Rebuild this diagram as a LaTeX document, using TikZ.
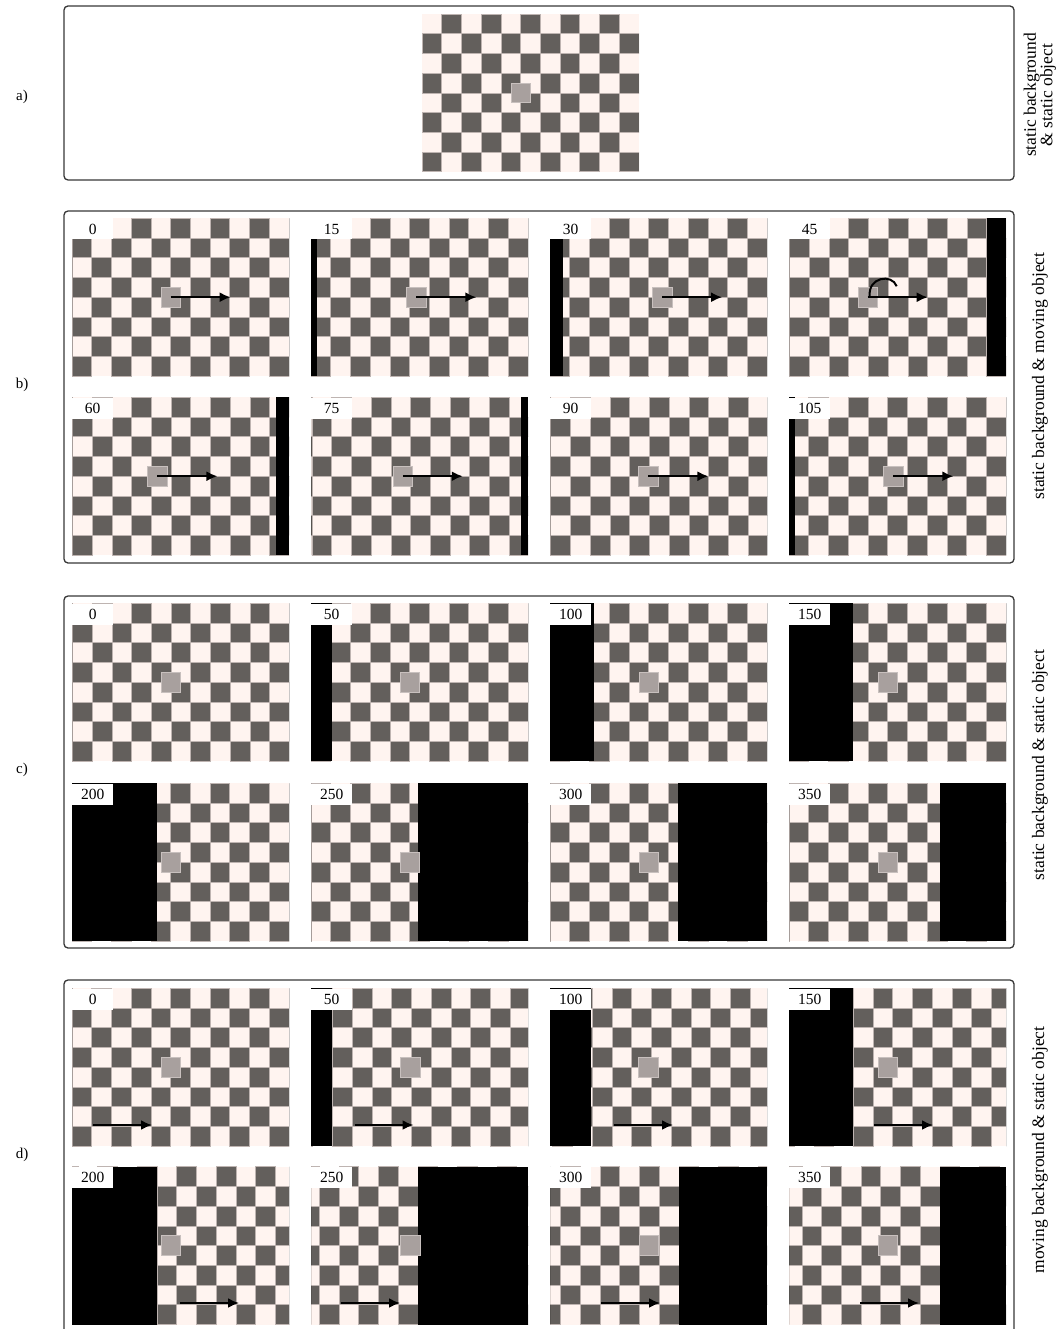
\documentclass[tikz,border=0pt]{standalone}
\usepackage{fontspec}
\setmainfont{Liberation Serif}
\usetikzlibrary{arrows.meta}
\definecolor{boardLight}{RGB}{255,244,240}
\definecolor{boardDark}{RGB}{99,95,92}
\definecolor{boardLine}{RGB}{190,180,177}
\definecolor{objGray}{RGB}{168,160,158}
\definecolor{objLine}{RGB}{200,192,190}
\definecolor{frameGray}{RGB}{55,55,55}

\newcommand{\cellsz}{19.73}
% #1,#2 top left, #3 frame number, #4 board shift, #5 black on the left,
% #6 start of black on the right, #7 object column, #8 name
\newcommand{\camframe}[8]{%
  \begin{scope}
    \clip (#1,#2) rectangle ++(217,158);
    \fill[boardLight] (#1,#2) rectangle ++(217,158);
    \foreach \ci in {-12,...,12}{
      \foreach \ri in {0,...,7}{
        \pgfmathtruncatemacro{\odd}{mod(\ci+\ri+24,2)}
        \ifnum\odd=1
          \fill[darkcell] ({#1+#4+\ci*\cellsz},{#2+\ri*\cellsz})
            rectangle ++(\cellsz,\cellsz);
        \fi
      }
    }
    \fill[black] (#1,#2) rectangle ++(#5,158);
    \fill[black] ({#1+#6},#2) rectangle ({#1+217},{#2+158});
  \end{scope}
  \node[object] (obj#8) at ({#1+#7*\cellsz},{#2+4*\cellsz}) {};
  \node[tag] (tag#8) at (#1,#2) {#3};
}

\begin{document}
\begin{tikzpicture}[
  x=1pt, y=-1pt,
  panel/.style={draw=frameGray, line width=1.3pt, rounded corners=4pt},
  darkcell/.style={fill=boardDark, draw=boardLine, line width=0.7pt},
  object/.style={fill=objGray, draw=objLine, line width=0.6pt,
    minimum size=19.7pt, inner sep=0pt},
  tag/.style={anchor=north west, fill=white, minimum width=41pt,
    minimum height=21pt, inner sep=0pt, font=\fontsize{15.5}{17}\selectfont},
  motion/.style={-{Latex[length=11pt,width=10pt]}, line width=2pt},
  letter/.style={font=\fontsize{15}{17}\selectfont},
  side/.style={rotate=90, align=center, font=\fontsize{17.5}{16.5}\selectfont}
]
  \useasboundingbox (0,0) rectangle (1062,1329);

  % panels
  \draw[panel] (64,6) rectangle (1014,180);
  \draw[panel] (64,211) rectangle (1014,563);
  \draw[panel] (64,596) rectangle (1014,948);
  \draw[panel] (64,980) rectangle (1014,1334);

  \node[letter] (la) at (22,97) {a)};
  \node[letter] (lb) at (22,385) {b)};
  \node[letter] (lc) at (22,770) {c)};
  \node[letter] (ld) at (22,1155) {d)};

  \node[side] (sa) at (1040,95) {static background\\\& static object};
  \node[side] (sb) at (1040,376) {static background \& moving object};
  \node[side] (sc) at (1040,765) {static background \& static object};
  \node[side] (sd) at (1040,1150) {moving background \& static object};

  % a) single view, no frame number
  \begin{scope}
    \clip (422,14) rectangle ++(217,158);
    \fill[boardLight] (422,14) rectangle ++(217,158);
    \foreach \ci in {0,...,10}{
      \foreach \ri in {0,...,7}{
        \pgfmathtruncatemacro{\odd}{mod(\ci+\ri,2)}
        \ifnum\odd=1
          \fill[darkcell] ({422+\ci*\cellsz},{14+\ri*\cellsz})
            rectangle ++(\cellsz,\cellsz);
        \fi
      }
    }
  \end{scope}
  \node[object] (obja) at ({422+5*\cellsz},{14+4*\cellsz}) {};

  % b) static background, moving object
  \camframe{72}{218.3}{0}{0}{0}{217}{5.0}{b0}
  \camframe{311}{218.3}{15}{0}{6.3}{217}{5.34}{b15}
  \camframe{550}{218.3}{30}{0}{13.3}{217}{5.68}{b30}
  \camframe{789}{218.3}{45}{0.5}{0}{197.7}{3.99}{b45}
  \camframe{72}{397.3}{60}{0.4}{0}{204}{4.33}{b60}
  \camframe{311}{397.3}{75}{1}{0}{210.3}{4.65}{b75}
  \camframe{550}{397.3}{90}{0.8}{0}{217}{4.99}{b90}
  \camframe{789}{397.3}{105}{0}{5.7}{217}{5.29}{b105}

  \foreach \nm in {b0,b15,b30,b45,b60,b75,b90,b105}{
    \path (obj\nm.center) ++(60,0) coordinate (tip\nm);
    \draw[motion] (obj\nm.center) -- (tip\nm);
  }
  \draw[line width=2pt] (objb45.center) ++(2,-1)
    .. controls ++(-2,-19) and ++(-5,-13) .. ++(27,-10);

  % c) static background, static object
  \camframe{72}{603.3}{0}{0.4}{0}{217}{5.0}{c0}
  \camframe{311}{603.3}{50}{0}{21}{217}{5.0}{c50}
  \camframe{550}{603.3}{100}{0}{44}{217}{5.0}{c100}
  \camframe{789}{603.3}{150}{0}{64}{217}{5.0}{c150}
  \camframe{72}{783.3}{200}{0}{85}{217}{5.0}{c200}
  \camframe{311}{783.3}{250}{19.73}{0}{107}{5.0}{c250}
  \camframe{550}{783.3}{300}{19.73}{0}{128.3}{5.0}{c300}
  \camframe{789}{783.3}{350}{19.73}{0}{151}{5.0}{c350}

  % d) moving background, static object
  \camframe{72}{988.3}{0}{0}{0}{217}{5.0}{d0}
  \camframe{311}{988.3}{50}{21.5}{21.3}{217}{5.03}{d50}
  \camframe{550}{988.3}{100}{42.3}{41.3}{217}{4.97}{d100}
  \camframe{789}{988.3}{150}{64.3}{64.2}{217}{5.0}{d150}
  \camframe{72}{1166.7}{200}{85}{85}{217}{5.0}{d200}
  \camframe{311}{1166.7}{250}{8.35}{0}{107}{5.04}{d250}
  \camframe{550}{1166.7}{300}{30.35}{0}{129}{5.0}{d300}
  \camframe{789}{1166.7}{350}{52.35}{0}{151}{5.0}{d350}

  \foreach \x/\y/\nm in {93/1125/d0, 354.5/1125/d50, 614/1125/d100,
      874/1125/d150, 180/1303/d200, 341/1303/d250, 601/1303/d300,
      860/1303/d350}{
    \coordinate (tail\nm) at (\x,\y);
    \coordinate (tip\nm) at (\x+59,\y);
    \draw[motion] (tail\nm) -- (tip\nm);
  }
\end{tikzpicture}
\end{document}
